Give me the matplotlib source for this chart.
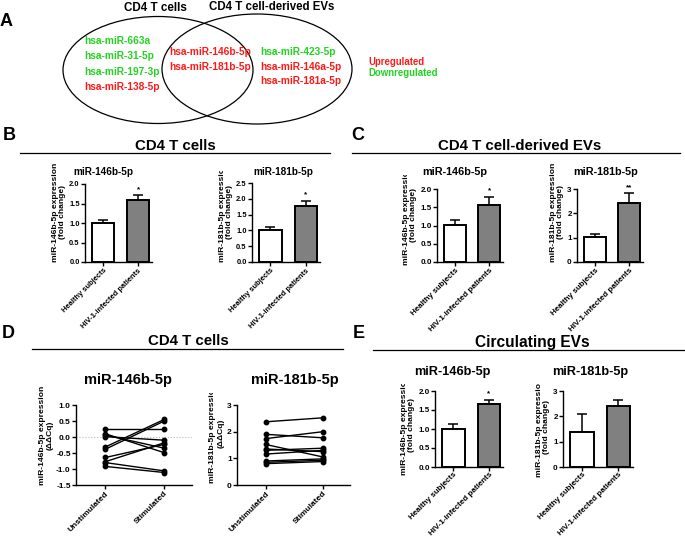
import matplotlib
matplotlib.use("Agg")
import matplotlib.pyplot as plt
from matplotlib.patches import Ellipse
from matplotlib.transforms import Bbox, TransformedBbox
import numpy as np

plt.rcParams['font.family'] = ['Liberation Sans', 'DejaVu Sans']
plt.rcParams['font.weight'] = 'bold'
plt.rcParams['axes.labelweight'] = 'bold'

W, H = 685, 540
RED = '#ff1a1a'
GREEN = '#22d322'
GRAY = '#808080'

# ---- data ----
groups = ["Healthy subjects", "HIV-1-infected patients"]

b146_mean, b146_err = [1.00, 1.60], [0.08, 0.11]
b181_mean, b181_err = [1.02, 1.77], [0.10, 0.17]
c146_mean, c146_err = [1.02, 1.56], [0.12, 0.23]
c181_mean, c181_err = [1.03, 2.43], [0.11, 0.40]
e146_mean, e146_err = [1.01, 1.65], [0.12, 0.12]
e181_mean, e181_err = [1.38, 2.40], [0.73, 0.25]

conditions = ["Unstimulated", "Stimulated"]
d146_unstim = [0.26, 0.10, 0.06, 0.01, -0.31, -0.38, -0.64, -0.77, -0.80, -0.92]
d146_stim = [0.26, -0.49, -0.35, -0.10, 0.55, 0.50, -0.23, -0.18, -1.06, -1.11]
d181_unstim = [2.37, 1.90, 1.74, 1.52, 1.35, 1.30, 1.16, 0.90, 0.85, 0.80]
d181_stim = [2.52, 1.77, 2.00, 1.05, 1.25, 1.38, 1.30, 0.98, 0.93, 0.88]

venn_left = ["hsa-miR-663a", "hsa-miR-31-5p", "hsa-miR-197-3p", "hsa-miR-138-5p"]
venn_left_up = [False, False, False, True]
venn_mid = ["hsa-miR-146b-5p", "hsa-miR-181b-5p"]
venn_mid_up = [True, True]
venn_right = ["hsa-miR-423-5p", "hsa-miR-146a-5p", "hsa-miR-181a-5p"]
venn_right_up = [False, True, True]

fig = plt.figure(figsize=(W / 100, H / 100), dpi=100)

# overlay in pixel coords for letters, headers, venn
ov = fig.add_axes([0, 0, 1, 1])
ov.set_xlim(0, W)
ov.set_ylim(H, 0)
ov.axis('off')


def px_axes(x0, x1, ytop, ybot):
    return fig.add_axes([x0 / W, 1 - ybot / H, (x1 - x0) / W, (ybot - ytop) / H])


def clip_top(artist, top_px):
    bb = TransformedBbox(Bbox.from_extents(0, 0, 1, 1 - top_px / H), fig.transFigure)
    artist.set_clip_box(bb)
    artist.set_clip_on(True)


def style(ax, tick_fs):
    for s in ['top', 'right']:
        ax.spines[s].set_visible(False)
    for s in ['left', 'bottom']:
        ax.spines[s].set_linewidth(1.0)
    ax.tick_params(axis='both', length=2.8, width=1.0, pad=1, labelsize=tick_fs)
    for lab in ax.get_yticklabels():
        lab.set_fontweight('bold')


def place_ylabel(ax, text, fs, bottom_px, ytop, ybot, cut):
    ax.set_ylabel(text, fontsize=fs, labelpad=2, linespacing=1.15)
    lab = ax.yaxis.label
    lab.set_ha('left')
    lab.set_multialignment('center')
    lab.set_y((ybot - bottom_px) / (ybot - ytop))
    if cut is not None:
        clip_top(lab, cut)


def bar_panel(x0, x1, ytop, ybot, means, errs, ymax, yticks, fmt, ylab, star,
              lab_bottom, tick_fs=5.4, lab_fs=6.1, xlab_fs=5.8, cut=None):
    ax = px_axes(x0, x1, ytop, ybot)
    x = np.arange(len(groups))
    ax.bar(x, means, width=0.64, color=['white', GRAY], edgecolor='black', linewidth=1.4, zorder=2)
    ax.errorbar(x, means, yerr=[[0] * len(errs), errs], fmt='none', ecolor='black',
                elinewidth=1.1, capsize=3.8, capthick=1.1, zorder=1)
    if star:
        ax.text(1, means[1] + errs[1] + ymax * 0.03, star, ha='center', va='bottom', fontsize=5.8)
    ax.set_xlim(-0.52, 1.4)
    ax.set_ylim(0, ymax)
    ax.set_yticks(yticks)
    ax.set_yticklabels([fmt.format(v) for v in yticks])
    ax.set_xticks(x)
    ax.set_xticklabels(groups, rotation=45, ha='right', rotation_mode='anchor',
                       fontsize=xlab_fs, fontweight='bold')
    style(ax, tick_fs)
    place_ylabel(ax, ylab, lab_fs, lab_bottom, ytop, ybot, cut)
    return ax


def pair_panel(x0, x1, ytop, ybot, before, after, ylim, yticks, fmt, ylab,
               lab_bottom, cut=None, zero=False):
    ax = px_axes(x0, x1, ytop, ybot)
    for u, s in zip(before, after):
        ax.plot([0, 1], [u, s], '-o', color='black', lw=1.0, ms=3.2, zorder=3)
    if zero:
        ax.axhline(0, color='#bbbbbb', lw=0.8, ls=':', zorder=1)
    ax.set_xlim(-0.5, 1.47)
    ax.set_ylim(*ylim)
    ax.set_yticks(yticks)
    ax.set_yticklabels([fmt.format(v) for v in yticks])
    ax.set_xticks([0, 1])
    ax.set_xticklabels(conditions, rotation=45, ha='right', rotation_mode='anchor',
                       fontsize=5.9, fontweight='bold')
    style(ax, 6.0)
    place_ylabel(ax, ylab, 6.1, lab_bottom, ytop, ybot, cut)
    return ax


# ---- panel A: venn ----
ov.text(6, 22, "A", fontsize=13, ha='center', va='center')
ov.add_patch(Ellipse((158, 70), 190, 107, fill=False, lw=0.9, color='black'))
ov.add_patch(Ellipse((257, 69), 190, 110, fill=False, lw=0.9, color='black'))
ov.text(155, 8, "CD4 T cells", fontsize=8.4, ha='center', va='center')
ov.text(272, 7, "CD4 T cell-derived EVs", fontsize=8.3, ha='center', va='center')
for i, (t, up) in enumerate(zip(venn_left, venn_left_up)):
    ov.text(84, 41 + i * 15.3, t, color=RED if up else GREEN, fontsize=7.3, va='center')
for i, (t, up) in enumerate(zip(venn_mid, venn_mid_up)):
    ov.text(169, 52 + i * 14.5, t, color=RED if up else GREEN, fontsize=7.3, va='center')
for i, (t, up) in enumerate(zip(venn_right, venn_right_up)):
    ov.text(260, 52 + i * 14.5, t, color=RED if up else GREEN, fontsize=7.3, va='center')
ov.text(368, 62, "Upregulated", color=RED, fontsize=6.9, va='center')
ov.text(368, 73, "Downregulated", color=GREEN, fontsize=6.9, va='center')

# ---- headers ----
headers = [("B", 9, 136, "CD4 T cells", 175, 146, 20, 330, 153, 10.8),
           ("C", 358, 136, "CD4 T cell-derived EVs", 520, 146, 352, 680, 153, 10.8),
           ("D", 8, 333, "CD4 T cells", 188, 341, 32, 343, 349, 10.8),
           ("E", 359, 333, "Circulating EVs", 532, 342, 373, 685, 350, 11.2)]
for let, lx, ly, txt, tx, ty, lx0, lx1, liney, fs in headers:
    ov.text(lx, ly, let, fontsize=13, ha='center', va='center')
    ov.text(tx, ty, txt, fontsize=fs, ha='center', va='center')
    ov.plot([lx0, lx1], [liney, liney], color='black', lw=0.9)

# ---- panel B ----
bar_panel(85, 152, 184, 262, b146_mean, b146_err, 2.0, np.arange(0, 2.01, 0.5), "{:.1f}",
          "miR-146b-5p expression\n(fold change)", "*", 262)
ov.text(103, 172, "miR-146b-5p", fontsize=7.2, ha='center', va='center')
bar_panel(252, 320, 183, 262, b181_mean, b181_err, 2.5, np.arange(0, 2.51, 0.5), "{:.1f}",
          "miR-181b-5p expression\n(fold change)", "*", 262, cut=171)
ov.text(283, 172, "miR-181b-5p", fontsize=7.2, ha='center', va='center')

# ---- panel C ----
bar_panel(437, 503, 189, 262, c146_mean, c146_err, 2.0, np.arange(0, 2.01, 0.5), "{:.1f}",
          "miR-146b-5p expression\n(fold change)", "*", 265, tick_fs=5.8, cut=175)
ov.text(455, 172, "miR-146b-5p", fontsize=7.8, ha='center', va='center')
bar_panel(577, 643, 189, 262, c181_mean, c181_err, 3, [0, 1, 2, 3], "{:d}",
          "miR-181b-5p expression\n(fold change)", "**", 262, tick_fs=5.8)
ov.text(606, 172, "miR-181b-5p", fontsize=7.8, ha='center', va='center')

# ---- panel D ----
pair_panel(76, 192, 405, 485, d146_unstim, d146_stim, (-1.5, 1.0),
           np.arange(-1.5, 1.01, 0.5), "{:.1f}", "miR-146b-5p expression\n(\u0394\u0394Cq)", 485, zero=True)
ov.text(128, 380, "miR-146b-5p", fontsize=10.5, ha='center', va='center')
pair_panel(237, 350, 405, 485, d181_unstim, d181_stim, (0, 3), [0, 1, 2, 3], "{:d}",
           "miR-181b-5p expression\n(\u0394\u0394Cq)", 483, cut=393)
ov.text(295, 380, "miR-181b-5p", fontsize=10.5, ha='center', va='center')

# ---- panel E ----
ax_e1 = bar_panel(435, 503, 391, 467, e146_mean, e146_err, 2.0, np.arange(0, 2.01, 0.5), "{:.1f}",
                  "miR-146b-5p expression\n(fold change)", "*", 475, tick_fs=5.8, xlab_fs=4.6, cut=384)
ov.text(452, 372, "miR-146b-5p", fontsize=9.2, ha='center', va='center')
ax_e2 = bar_panel(563, 633, 391, 467, e181_mean, e181_err, 3, [0, 1, 2, 3], "{:d}",
                  "miR-181b-5p expression\n(fold change)", None, 477, tick_fs=5.8, xlab_fs=4.6, cut=384)
ov.text(590, 372, "miR-181b-5p", fontsize=9.2, ha='center', va='center')
for a in (ax_e1, ax_e2):
    a.tick_params(axis='x', pad=0)

fig.savefig("out.png", dpi=100)
